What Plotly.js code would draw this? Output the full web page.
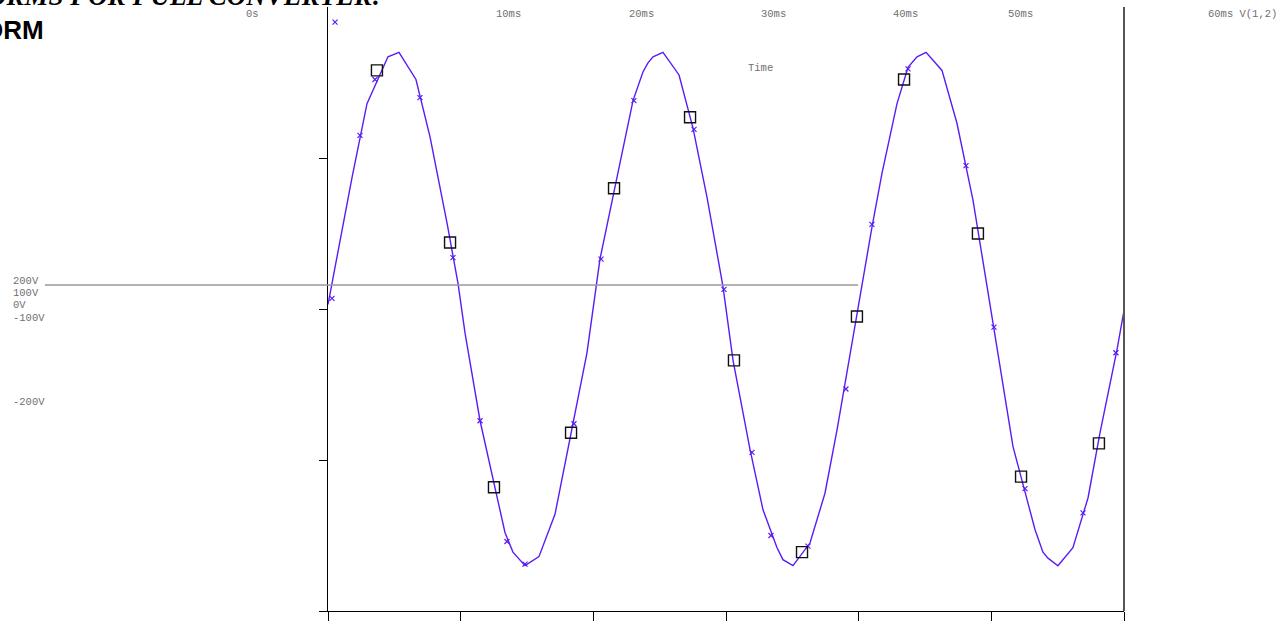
<!DOCTYPE html>
<html>
<head>
<meta charset="utf-8">
<script src="https://cdn.plot.ly/plotly-3.0.1.min.js"></script>
<style>html,body{margin:0;padding:0;background:#fff;overflow:hidden}#chart{width:1278px;height:621px}</style>
</head>
<body>
<div id="chart"></div>
<script>
// ---- data (time in ms, voltage in V) ----
const timeMs = [0, 1.81, 2.94, 4.52, 5.35, 6.63, 7.69, 8.97, 9.80, 10.33, 11.46, 13.34, 13.94, 14.85, 15.90, 17.11, 19.52,
  20.50, 21.78, 22.99, 23.74, 24.12, 24.50, 25.25, 26.46, 27.51, 28.57, 29.77, 30.53, 31.81, 32.79, 33.84, 34.29, 35.05,
  36.33, 37.46, 38.37, 39.87, 41.00, 41.76, 42.89, 43.72, 44.40, 45.08, 46.28, 47.41, 48.62, 50.12, 51.63, 53.29, 53.89,
  54.27, 55.02, 56.15, 57.29, 58.19, 59.47, 60.00];
const voltage = [3, 87, 136, 167, 170, 152, 114, 57, 17, -16, -74, -148, -161, -170, -164, -136, -29,
  33, 87, 138, 157, 163, 167, 170, 155, 120, 74, 15, -34, -93, -133, -158, -166, -170,
  -155, -122, -80, -3, 54, 90, 136, 160, 167, 170, 158, 123, 72, -9, -91, -146, -161,
  -165, -170, -158, -125, -82, -27, -1];

const squareT = [3.69, 9.20, 12.51, 18.32, 21.56, 27.29, 30.60, 35.73, 39.87, 43.42, 48.99, 52.24, 58.11];
const squareV = [158, 44, -118, -82, 80, 127, -34, -161, -5, 152, 50, -111, -89];

const dotT = [0.30, 0.53, 2.41, 3.54, 6.93, 9.42, 11.46, 13.49, 14.85, 18.54, 20.58, 23.06, 27.59, 29.85, 31.96, 33.39,
  36.18, 39.04, 41.00, 43.72, 48.09, 50.20, 52.54, 56.91, 59.39];
const dotV = [7, 190, 115, 152, 140, 34, -74, -154, -169, -76, 33, 138, 119, 13, -95, -150,
  -157, -53, 56, 159, 95, -12, -119, -135, -29];

const topLabels = ["0s", "10ms", "20ms", "30ms", "40ms", "50ms"];
const sideLabels = ["200V", "100V", "0V", "-100V", "-200V"];
const signalLabel = "60ms V(1,2)";
const axisName = "Time";
const titleLine1 = "ORMS FOR FULL CONVERTER:";
const titleLine2 = "ORM";

// ---- layout helpers (pixel -> paper) ----
const W = 1278, H = 621;
const L = 328, R = 1124, T = 7, B = 611;
const px = x => (x - L) / (R - L);
const py = y => (B - y) / (B - T);

const mono = {family: "Liberation Mono, Courier New, monospace", size: 10.5, color: "#707070"};

const topX = [252, 508, 641, 773, 905, 1020];
const sideY = [281, 293, 305, 318, 402];

const annotations = [];
topLabels.forEach((t, i) => annotations.push({
  text: t, xref: "paper", yref: "paper", x: px(topX[i]), y: py(14), xanchor: "center", yanchor: "middle",
  showarrow: false, font: mono
}));
annotations.push({text: signalLabel, xref: "paper", yref: "paper", x: px(1206), y: py(14), xanchor: "left",
  yanchor: "middle", showarrow: false, font: mono});
annotations.push({text: axisName, xref: "paper", yref: "paper", x: px(760), y: py(68), xanchor: "center",
  yanchor: "middle", showarrow: false, font: mono});
sideLabels.forEach((t, i) => annotations.push({
  text: t, xref: "paper", yref: "paper", x: px(11), y: py(sideY[i]), xanchor: "left", yanchor: "middle",
  showarrow: false, font: mono
}));
annotations.push({text: titleLine1, xref: "paper", yref: "paper", x: px(383), y: py(13), xanchor: "right",
  yanchor: "bottom", showarrow: false,
  font: {family: "Liberation Serif, Times New Roman, serif", size: 27, weight: 700, style: "italic", color: "#000"}});
annotations.push({text: titleLine2, xref: "paper", yref: "paper", x: px(46), y: py(30), xanchor: "right",
  yanchor: "middle", showarrow: false,
  font: {family: "Liberation Sans, Arial, sans-serif", size: 26, weight: 700, color: "#000"}});

const purple = "#5a1cf5";
const traces = [
  {x: timeMs, y: voltage, mode: "lines", line: {color: purple, width: 1.4}, hoverinfo: "skip", name: "V(1,2)"},
  {x: dotT, y: dotV, mode: "markers",
   marker: {symbol: "x-thin-open", size: 5, color: purple, line: {color: purple, width: 1.2}},
   hoverinfo: "skip", name: "pts"},
  {x: squareT, y: squareV, mode: "markers",
   marker: {symbol: "square-open", size: 11, color: "#111", line: {color: "#111", width: 1.4}},
   hoverinfo: "skip", name: "sq"}
];

const layout = {
  width: W, height: H,
  margin: {l: L, r: W - R, t: T, b: H - B, pad: 0},
  paper_bgcolor: "#fff", plot_bgcolor: "#fff",
  showlegend: false,
  xaxis: {range: [0, 60], showgrid: false, zeroline: false, showline: true, linecolor: "#000", linewidth: 1,
    ticks: "outside", ticklen: 10, tickcolor: "#000", tickwidth: 1, tickmode: "linear", tick0: 0, dtick: 10,
    showticklabels: false},
  yaxis: {range: [-200, 200], showgrid: false, zeroline: false, showline: true, linecolor: "#000", linewidth: 1,
    ticks: "outside", ticklen: 8, tickcolor: "#000", tickwidth: 1, tickvals: [-200, -100, 0, 100],
    showticklabels: false},
  shapes: [
    {type: "line", xref: "paper", yref: "paper", x0: 1, x1: 1, y0: 0, y1: py(7), line: {color: "#555", width: 2}},
    {type: "line", xref: "paper", yref: "paper", x0: px(45), x1: px(858), y0: py(285), y1: py(285),
     line: {color: "#999", width: 1.5}}
  ],
  annotations: annotations
};

Plotly.newPlot("chart", traces, layout, {displayModeBar: false, staticPlot: true});
</script>
</body>
</html>
